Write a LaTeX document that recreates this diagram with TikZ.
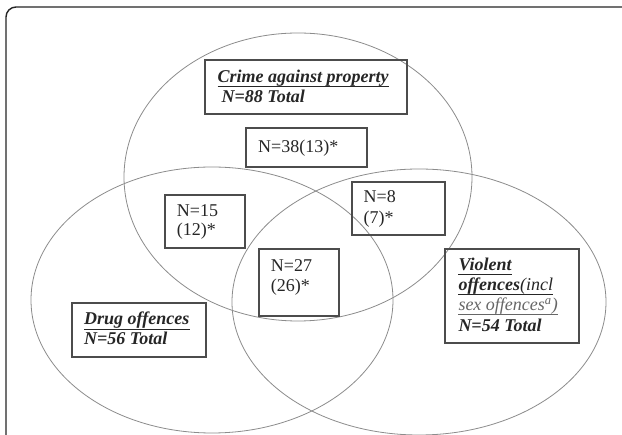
\documentclass[tikz,border=0pt]{standalone}
\usepackage{fontspec}
\setmainfont{Liberation Serif}
\begin{document}
\begin{tikzpicture}[x=1pt,y=-1pt,
  setline/.style={draw=black!45, line width=0.8pt},
  boxst/.style={draw=black!70, line width=1.1pt, rectangle, inner sep=0pt},
  txt/.style={anchor=base west, inner sep=0pt, font=\fontsize{18}{20}\selectfont, text=black!85},
  bitxt/.style={txt, font=\fontsize{18}{20}\selectfont\bfseries\itshape},
  uline/.style={line width=0.9pt, draw=black!85}
]
\useasboundingbox (0,0) rectangle (622,435);
\fill[white] (0,0) rectangle (622,435);
% frame
\draw[line width=1.4pt, black!85, rounded corners=10pt] (6,450) -- (6,7) -- (640,7);
% sets
\draw[setline] (298,177) ellipse [x radius=174, y radius=144];
\draw[setline] (212,300) ellipse [x radius=181, y radius=133];
\draw[setline] (419,302) ellipse [x radius=187, y radius=133];
% boxes
\node[boxst, minimum width=202pt, minimum height=54pt] (crime) at (306,87) {};
\node[boxst, minimum width=121pt, minimum height=39pt] (c38) at (306.5,147.5) {};
\node[boxst, minimum width=80pt, minimum height=53pt] (c15) at (205,221.5) {};
\node[boxst, minimum width=93pt, minimum height=53pt] (c8) at (398.5,208.5) {};
\node[boxst, minimum width=80pt, minimum height=67pt] (c27) at (299,282.5) {};
\node[boxst, minimum width=134pt, minimum height=54pt] (drug) at (139,330) {};
\node[boxst, minimum width=134pt, minimum height=94pt] (viol) at (512,296) {};
% crime
\node[bitxt] (crimeA) at (217.5,82.5) {Crime against property};
\node[bitxt] (crimeB) at (221.5,102.7) {N=88 Total};
\draw[uline] ([yshift=-4pt]crimeA.base west) -- ([yshift=-4pt]crimeA.base east);
% counts
\node[txt] (c38A) at (258,152.7) {N=38(13)*};
\node[txt] (c15A) at (176.7,216.7) {N=15};
\node[txt] (c15B) at (176.7,235.5) {(12)*};
\node[txt] (c8A) at (363.5,203) {N=8};
\node[txt] (c8B) at (363.5,223.5) {(7)*};
\node[txt] (c27A) at (270.7,271.7) {N=27};
\node[txt] (c27B) at (270.7,291.5) {(26)*};
% drug
\node[bitxt] (drugA) at (84,325) {Drug offences};
\node[bitxt] (drugB) at (84,345) {N=56 Total};
\draw[uline] ([yshift=-4pt]drugA.base west) -- ([yshift=-4pt]drugA.base east);
% violent
\node[bitxt] (violA) at (458.3,271) {Violent};
\node[txt] (violB) at (458.3,290.5) {\bfseries\itshape offences\mdseries(incl};
\node[txt, text=black!60] (violC) at (458.3,310.5) {\itshape sex offences\textsuperscript{a})};
\node[bitxt] (violD) at (458.3,331.5) {N=54 Total};
\draw[uline] ([yshift=-3.5pt]violA.base west) -- ([yshift=-3.5pt]violA.base east);
\draw[uline] ([yshift=-4pt]violB.base west) -- ([yshift=-4pt]violB.base east);
\draw[uline, draw=black!60] ([yshift=-4pt]violC.base west) -- ([yshift=-4pt]violC.base east);
\end{tikzpicture}
\end{document}
